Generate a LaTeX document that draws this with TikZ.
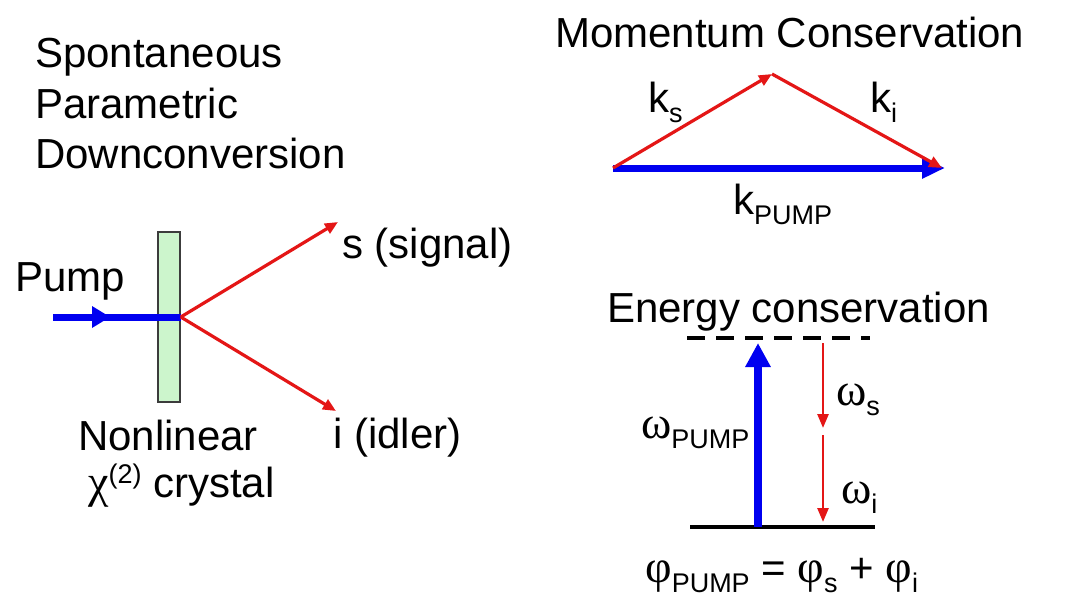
\documentclass[tikz,border=0pt]{standalone}
\usepackage{fontspec}
\setmainfont{Liberation Sans}
\newfontfamily\grkfam{Liberation Serif}
\newcommand{\grk}{\grkfam\fontsize{46}{50}\selectfont}
\usetikzlibrary{arrows.meta}
\definecolor{myred}{RGB}{228,22,22}
\definecolor{myblue}{RGB}{0,0,240}
\definecolor{xgreen}{RGB}{204,245,204}
\definecolor{xedge}{RGB}{60,60,60}
\newcommand{\lowtxt}[1]{\raisebox{-10pt}{\fontsize{27}{27}\selectfont #1}}
\newcommand{\uptxt}[1]{\raisebox{14pt}{\fontsize{27}{27}\selectfont #1}}
\tikzset{
  lbl/.style={anchor=base west, inner sep=0pt, font=\fontsize{42}{50}\selectfont},
  redarr/.style={draw=myred, line width=3.2pt, -{Triangle[length=13pt,width=11pt]}},
  bluearr/.style={draw=myblue, line width=7pt},
  crystal/.style={draw=xedge, fill=xgreen, line width=1.5pt, minimum width=22pt, minimum height=170pt, inner sep=0pt},
  level/.style={draw=black, line width=4pt}
}
\begin{document}
\begin{tikzpicture}[x=1pt,y=-1pt]
\path[use as bounding box, fill=white] (0,0) rectangle (1080,605);
% left title
\node[lbl] (t1) at (35,67) {Spontaneous};
\node[lbl] (t2) at (35,118) {Parametric};
\node[lbl] (t3) at (35,168) {Downconversion};
% crystal and beams
\node[crystal] (xtal) at (169,317) {};
\coordinate (pstart) at (53,317);
\coordinate (pmid) at (110,317);
\draw[bluearr] (pstart) -- (xtal.east);
\draw[bluearr, line width=0pt, -{Triangle[length=18pt,width=22pt]}] (pstart) -- (pmid);
\coordinate (sig) at (338,222);
\coordinate (idl) at (336,411);
\draw[redarr] (xtal.east) -- (sig);
\draw[redarr] (xtal.east) -- (idl);
\node[lbl] (pump) at (15,291) {Pump};
\node[lbl] (slab) at (342,258) {s (signal)};
\node[lbl] (ilab) at (333,448) {i (idler)};
\node[lbl] (nl) at (78,450) {Nonlinear};
\node[lbl] (chi) at (88,497) {{\grk χ}\uptxt{(2)} crystal};
% momentum conservation
\node[lbl] (mc) at (555,47) {Momentum Conservation};
\coordinate (ka) at (613,168);
\coordinate (kb) at (772,74);
\coordinate (kc) at (945,168);
\coordinate (kd) at (942,168);
\draw[bluearr, -{Triangle[length=23pt,width=20pt]}] (ka) -- (kc);
\draw[redarr] (ka) -- (kb);
\draw[redarr] (kb) -- (kd);
\node[lbl] (ks) at (648,112) {k\lowtxt{s}};
\node[lbl] (ki) at (870,112) {k\lowtxt{i}};
\node[lbl] (kp) at (733,214) {k\lowtxt{PUMP}};
% energy conservation
\node[lbl] (ec) at (607,322) {Energy conservation};
\coordinate (vl) at (687,338);
\coordinate (vr) at (870,338);
\coordinate (gl) at (690,527);
\coordinate (gr) at (875,527);
\draw[level, dash pattern=on 18pt off 11pt] (vl) -- (vr);
\draw[level] (gl) -- (gr);
\coordinate (pb) at (758,527);
\coordinate (pt) at (758,343);
\draw[draw=myblue, line width=8pt, -{Triangle[length=24pt,width=24pt]}] (pb) -- (pt);
\coordinate (r1) at (823,343);
\coordinate (r2) at (823,428);
\coordinate (r3) at (823,435);
\coordinate (r4) at (823,522);
\draw[redarr, line width=2.6pt, -{Triangle[length=14pt,width=11pt]}] (r1) -- (r2);
\draw[redarr, line width=2.6pt, -{Triangle[length=14pt,width=11pt]}] (r3) -- (r4);
\node[lbl] (ws) at (836,405) {{\grk ω}\lowtxt{s}};
\node[lbl] (wi) at (841,503) {{\grk ω}\lowtxt{i}};
\node[lbl] (wp) at (641,438) {{\grk ω}\lowtxt{PUMP}};
\node[lbl] (phi) at (645,582) {{\grk φ}\lowtxt{PUMP} = {\grk φ}\lowtxt{s} + {\grk φ}\lowtxt{i}};
\end{tikzpicture}
\end{document}
